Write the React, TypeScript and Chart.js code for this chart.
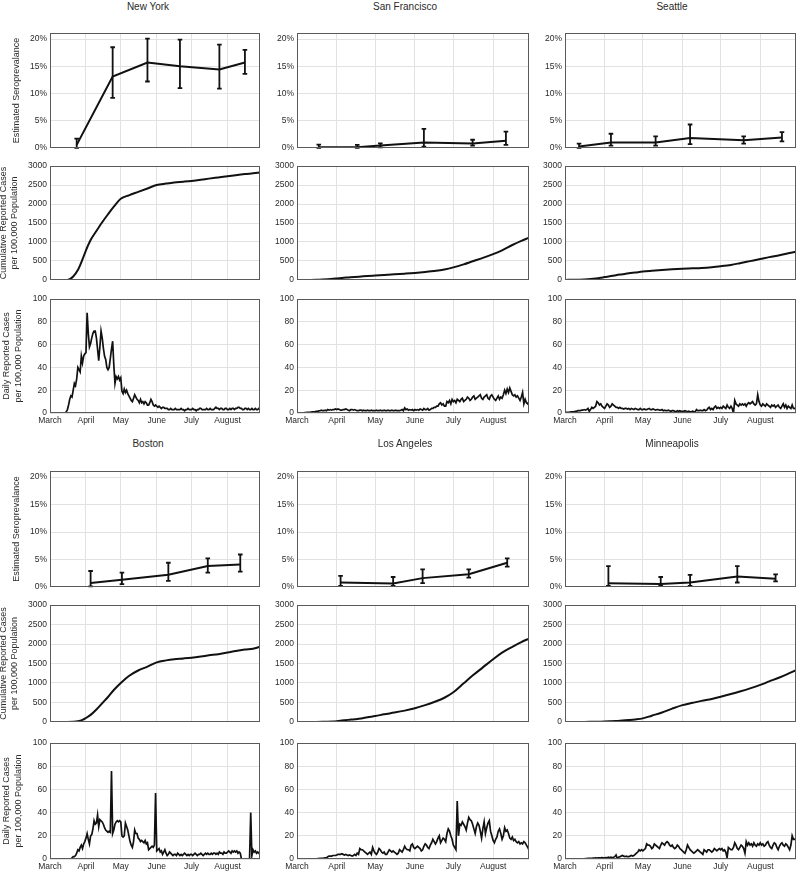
import React, { useEffect, useRef } from 'react';
import { Chart, registerables } from 'chart.js';

Chart.register(...registerables);

// ---------------- DATA ----------------
// x axis: day index counted from March 1 (day 0)
const MONTH_DAYS = [0, 31, 61, 92, 122, 153];
const MONTH_LABELS = ['March', 'April', 'May', 'June', 'July', 'August'];
const LAST_DAY = 181;

const SERO_TICK_SUFFIX = '%';
const SERO_MAX = 21.1;
const CUM_MAX = 3000;
const DAILY_MAX = 100;

// Seroprevalence survey points (day, estimate %, lower %, upper %)
const NY_SERO_DAYS = [23, 54, 84, 112, 146, 168];
const NY_SERO = [0.55, 13.1, 15.7, 15.0, 14.4, 15.7];
const NY_SERO_LO = [0, 9.2, 12.2, 11.0, 10.9, 13.6];
const NY_SERO_HI = [1.7, 18.5, 20.1, 19.9, 19.0, 18.0];

const SF_SERO_DAYS = [17, 47, 65, 99, 137, 163];
const SF_SERO = [0.1, 0.1, 0.45, 1.0, 0.8, 1.3];
const SF_SERO_LO = [0, 0, 0.1, 0.25, 0.4, 0.55];
const SF_SERO_HI = [0.6, 0.55, 0.85, 3.5, 1.5, 3.0];

const SEA_SERO_DAYS = [11, 36, 71, 98, 140, 170];
const SEA_SERO = [0.25, 1.0, 1.0, 1.8, 1.4, 1.9];
const SEA_SERO_LO = [0, 0.4, 0.4, 0.7, 0.8, 1.2];
const SEA_SERO_HI = [0.8, 2.6, 2.1, 4.3, 2.1, 2.9];

const BOS_SERO_DAYS = [35, 62, 102, 136, 164];
const BOS_SERO = [0.7, 1.3, 2.2, 3.8, 4.1];
const BOS_SERO_LO = [0.1, 0.5, 1.1, 2.6, 2.8];
const BOS_SERO_HI = [2.9, 2.6, 4.4, 5.2, 5.9];

const LA_SERO_DAYS = [34, 75, 98, 134, 164];
const LA_SERO = [0.8, 0.6, 1.6, 2.3, 4.4];
const LA_SERO_LO = [0.2, 0.2, 0.7, 1.7, 3.7];
const LA_SERO_HI = [2.0, 1.8, 3.2, 3.2, 5.2];

const MSP_SERO_DAYS = [34, 75, 98, 135, 165];
const MSP_SERO = [0.65, 0.55, 0.8, 1.9, 1.5];
const MSP_SERO_LO = [0.2, 0.2, 0.2, 0.8, 1.0];
const MSP_SERO_HI = [3.8, 1.8, 2.2, 3.8, 2.3];

// Cumulative reported cases per 100,000 (sampled on these days)
const CUM_DAYS = [0, 8, 15, 20, 24, 28, 31, 35, 40, 45, 50, 55, 61, 68, 76, 84, 92, 100, 107, 115, 122, 130, 137, 145, 153, 160, 168, 175, 181];
const NY_CUM = [0, 0, 0, 90, 260, 540, 780, 1050, 1290, 1520, 1730, 1930, 2140, 2230, 2320, 2410, 2500, 2540, 2570, 2590, 2610, 2640, 2670, 2700, 2730, 2760, 2790, 2810, 2830];
const SF_CUM = [0, 0, 5, 12, 20, 30, 40, 52, 65, 78, 90, 102, 115, 130, 147, 165, 185, 210, 235, 275, 330, 410, 490, 580, 680, 780, 920, 1030, 1110];
const SEA_CUM = [0, 3, 12, 22, 35, 55, 75, 95, 125, 150, 175, 195, 220, 240, 260, 280, 295, 305, 315, 335, 360, 395, 440, 495, 550, 600, 650, 700, 745];
const BOS_CUM = [0, 0, 0, 3, 15, 50, 100, 180, 320, 480, 640, 820, 1000, 1180, 1320, 1420, 1530, 1580, 1610, 1630, 1650, 1680, 1710, 1740, 1780, 1820, 1860, 1880, 1930];
const LA_CUM = [0, 0, 0, 1, 4, 10, 18, 33, 52, 68, 88, 120, 150, 195, 240, 290, 350, 430, 510, 620, 760, 990, 1190, 1400, 1610, 1780, 1930, 2050, 2140];
const MSP_CUM = [0, 0, 0, 1, 3, 6, 9, 14, 22, 35, 47, 62, 90, 160, 240, 340, 430, 490, 540, 590, 645, 715, 780, 860, 950, 1040, 1140, 1240, 1330];

// Daily reported cases per 100,000 (day 0 .. 181)
const NY_DAILY = [
  0, 0, 0, 0, 0, 0, 0, 0, 0, 0, 0, 0, 0, 0,
  1, 3, 7, 12, 15, 14, 20, 26, 24, 30, 40, 38, 36, 50, 44, 50, 52,
  53, 88, 70, 58, 61, 66, 70, 72, 72, 66,
  56, 46, 58, 72, 66, 57, 50, 47, 40, 38,
  40, 48, 56, 63, 42, 26, 32, 30, 32, 29,
  31, 19, 17, 21, 18, 20, 17, 15, 13, 11,
  10, 13, 16, 14, 12, 11, 9, 12, 9, 10,
  8, 10, 9, 7, 7, 9, 12, 10, 7, 6,
  7, 6, 5, 6, 5, 4, 5, 5, 4, 4,
  4, 3, 3, 4, 3, 3, 3, 4, 3, 3,
  3, 3, 4, 3, 3, 2, 3, 3, 4, 3,
  3, 3, 4, 3, 3, 2, 3, 3, 4, 4,
  3, 3, 3, 3, 4, 3, 3, 4, 3, 3,
  3, 4, 5, 4, 4, 3, 4, 4, 3, 3,
  4, 4, 3, 3, 4, 3, 4, 4, 3, 4,
  4, 5, 5, 4, 4, 3, 3, 4, 4, 3,
  4, 3, 3, 4, 3, 3, 4, 3, 3, 4,
  4,
];
const SF_DAILY = [
  0, 0, 0, 0, 0, 0, 0.3, 0.3, 0.5, 0.5, 0.5,
  0.8, 1, 1, 1.2, 1.5, 1.5, 1.8, 2, 2.5, 2, 2, 2.5, 2, 3, 2.5, 3, 2.5, 3, 3, 3.5,
  3, 3.5, 3, 2.5, 2.5, 3, 3, 3.5, 3, 2.5, 2, 3, 3, 2.5, 3, 2.5, 2, 2, 2.5, 2.5, 2, 2.5, 2, 2, 2.5, 2, 2, 2.5, 2, 2,
  2, 2.5, 2, 2, 2.5, 2, 2, 2.5, 2, 2, 2.5, 2, 2, 2.5, 2, 2, 2.5, 2, 2, 2, 2.5, 3, 2, 4.5, 3, 3.5, 2.5, 3, 2.5, 3, 2,
  3, 2.5, 3, 2.5, 3.5, 3, 2.5, 4, 3, 3, 4, 2.5, 3, 4, 4, 5, 5, 6, 6, 8, 9, 7, 8, 6, 6, 10, 9, 11, 8, 12,
  10, 11, 9, 12, 11, 10, 12, 13, 10, 11, 12, 14, 13, 11, 12, 14, 15, 12, 13, 14, 15, 16, 13, 12, 14, 15, 16, 13, 12, 15, 16,
  14, 12, 11, 13, 15, 12, 14, 13, 16, 20, 17, 21, 18, 22, 19, 16, 15, 16, 14, 15, 13, 11, 14, 18, 8, 12, 9, 8, 10,
];
const SEA_DAILY = [
  0.5, 0.5, 0.5, 0.5, 0.8, 1, 1, 1, 1.5, 1.5, 2, 2, 2, 2.5, 2.5, 3, 2.5, 3, 4, 1.5, 3, 5, 4, 5, 6, 10, 9, 7, 8, 6, 5,
  4, 6, 8, 7, 5, 6, 8, 7, 6, 5, 5, 4, 5, 4, 4, 3.5, 4, 4, 3.5, 4, 3, 4, 3.5, 3, 4, 3.5, 3, 3, 4, 3,
  3, 3.5, 3, 3, 3.5, 4, 3, 3, 3.5, 3, 2.5, 3, 3, 2.5, 2.5, 3, 2, 2.5, 2, 2, 2.5, 2, 1.5, 2, 2, 1.5, 1, 2, 1.5, 2, 1.5,
  1.5, 1.5, 2, 1.5, 1, 1.5, 1, 1, 1.5, 1, 1, 3, 2, 2, 2.5, 2, 2, 3, 2, 2.5, 4, 5, 3, 4, 3, 5, 6, 4, 5, 4,
  5, 4, 6, 5, 4, 7, 5, 4, 6, 4, 0, 11, 8, 7, 6, 8, 7, 8, 7, 8, 6, 8, 9, 8, 9, 10, 8, 7, 8, 16, 10,
  7, 6, 8, 7, 6, 8, 7, 6, 5, 7, 6, 7, 5, 6, 7, 5, 4, 6, 8, 5, 7, 4, 6, 5, 4, 7, 4, 4, 3,
];
const BOS_DAILY = [
  0, 0, 0, 0, 0, 0, 0, 0, 0, 0, 0, 0, 0, 0, 0, 0, 0, 0, 0,
  1, 2, 2, 3, 5, 8, 7, 10, 12, 9, 13, 15,
  18, 22, 17, 13, 20, 21, 26, 33, 30, 31, 38, 28, 34, 33, 32, 30, 27, 25, 24, 23, 24, 23, 76, 22, 25, 30, 32, 33, 32, 33,
  32, 20, 19, 20, 31, 28, 25, 20, 15, 12, 10, 15, 25, 22, 22, 18, 17, 15, 16, 15, 14, 16, 13, 14, 8, 9, 10, 11, 10, 12, 57,
  7, 8, 9, 6, 7, 4, 6, 8, 5, 3, 4, 6, 5, 4, 3, 4, 4, 3, 5, 4, 3, 4, 3, 4, 5, 4, 3, 4, 3, 4,
  4, 3, 4, 5, 4, 3, 4, 4, 5, 4, 3, 4, 5, 4, 5, 4, 4, 5, 4, 5, 5, 4, 5, 4, 6, 5, 5, 4, 6, 5, 5,
  6, 7, 6, 5, 7, 6, 7, 6, 7, 5, 6, 5, 0, 0, 0, 0, 0, 0, 0, 0, 40, 3, 8, 6, 7, 5, 6, 5, 4,
];
const LA_DAILY = [
  0, 0, 0, 0, 0, 0, 0, 0, 0, 0, 0, 0, 0, 0, 0, 0, 0.3, 0.3, 0.5, 0.5, 0.5, 0.8, 1, 1, 2, 2.5, 2.5, 2.5, 3, 3, 3,
  3.5, 4, 4, 4, 4.5, 4, 3.5, 4, 3.5, 3, 3.5, 3, 2.5, 3, 4, 3, 5, 4, 9, 8, 8, 7, 6, 5, 4, 5, 6, 4, 10, 7,
  5, 4, 6, 9, 8, 6, 5, 6, 4, 4, 6, 8, 7, 6, 7, 6, 5, 4, 5, 8, 7, 6, 8, 11, 9, 8, 8, 7, 12, 13, 10,
  9, 10, 11, 10, 9, 7, 8, 11, 13, 12, 10, 9, 12, 14, 17, 15, 13, 15, 18, 20, 14, 16, 18, 17, 15, 22, 26, 24, 20, 17,
  12, 10, 8, 50, 20, 30, 29, 32, 30, 28, 25, 31, 36, 34, 33, 30, 26, 22, 28, 31, 29, 24, 18, 26, 32, 22, 27, 31, 33, 24, 20,
  16, 14, 17, 19, 24, 26, 22, 17, 20, 27, 24, 25, 22, 18, 17, 19, 16, 17, 15, 14, 15, 13, 14, 13, 15, 14, 12, 10, 8,
];
const MSP_DAILY = [
  0, 0, 0, 0, 0, 0, 0, 0, 0, 0, 0, 0, 0, 0, 0, 0.2, 0.3, 0.3, 0.5, 0.5, 0.5, 0.5, 0.8, 0.8, 1, 0.8, 1, 1, 1, 1.2, 1,
  1, 1.2, 1, 1.5, 1, 1.5, 1.2, 1.5, 2, 3.5, 0.5, 1.5, 2, 2.5, 3, 2.5, 2, 2.5, 2, 2, 2.5, 3, 2.5, 3, 4, 5, 6, 8, 7, 8,
  7, 8, 9, 13, 12, 12, 11, 9, 10, 13, 12, 11, 10, 9, 12, 14, 13, 12, 14, 15, 14, 12, 11, 12, 10, 9, 10, 12, 11, 9, 8,
  7, 6, 5, 8, 12, 10, 8, 7, 6, 5, 6, 7, 8, 7, 6, 5, 4, 8, 7, 6, 8, 8, 7, 6, 7, 9, 8, 7, 8, 9,
  8, 9, 7, 8, 6, 1, 10, 9, 8, 8, 10, 14, 12, 9, 8, 10, 12, 11, 9, 5, 15, 12, 14, 12, 13, 11, 14, 12, 11, 13, 12,
  14, 12, 13, 11, 12, 14, 15, 12, 10, 9, 12, 14, 13, 10, 8, 11, 13, 14, 12, 11, 13, 12, 10, 8, 12, 20, 17, 17, 18,
];

const CITY_NAMES = ['New York', 'San Francisco', 'Seattle', 'Boston', 'Los Angeles', 'Minneapolis'];

type City = {
  name: string;
  seroDays: number[]; sero: number[]; seroLo: number[]; seroHi: number[];
  cum: number[]; daily: number[];
};

const CITIES: City[] = [
  { name: CITY_NAMES[0], seroDays: NY_SERO_DAYS, sero: NY_SERO, seroLo: NY_SERO_LO, seroHi: NY_SERO_HI, cum: NY_CUM, daily: NY_DAILY },
  { name: CITY_NAMES[1], seroDays: SF_SERO_DAYS, sero: SF_SERO, seroLo: SF_SERO_LO, seroHi: SF_SERO_HI, cum: SF_CUM, daily: SF_DAILY },
  { name: CITY_NAMES[2], seroDays: SEA_SERO_DAYS, sero: SEA_SERO, seroLo: SEA_SERO_LO, seroHi: SEA_SERO_HI, cum: SEA_CUM, daily: SEA_DAILY },
  { name: CITY_NAMES[3], seroDays: BOS_SERO_DAYS, sero: BOS_SERO, seroLo: BOS_SERO_LO, seroHi: BOS_SERO_HI, cum: BOS_CUM, daily: BOS_DAILY },
  { name: CITY_NAMES[4], seroDays: LA_SERO_DAYS, sero: LA_SERO, seroLo: LA_SERO_LO, seroHi: LA_SERO_HI, cum: LA_CUM, daily: LA_DAILY },
  { name: CITY_NAMES[5], seroDays: MSP_SERO_DAYS, sero: MSP_SERO, seroLo: MSP_SERO_LO, seroHi: MSP_SERO_HI, cum: MSP_CUM, daily: MSP_DAILY },
];

// ---------------- LAYOUT / STYLE ----------------
const FONT = '"Liberation Sans", Arial, Helvetica, sans-serif';
const LINE = '#111111';
const GRID = '#e2e2e2';
const FRAME = '#5a5a5a';
const TEXT = '#2a2a2a';

const COL_PLOT_X = [[50, 260], [297, 529], [565, 796]];
const GROUP_ROWS = [
  [[33, 148], [166, 280], [299, 413]],
  [[471, 587], [605, 722], [743, 859]],
];
const TITLE_X = [148, 405, 672];
const TITLE_Y = [7, 444];

type Kind = 'sero' | 'cum' | 'daily';
const KINDS: Kind[] = ['sero', 'cum', 'daily'];

const framePlugin = {
  id: 'frame',
  afterDraw(chart: any) {
    const { ctx, chartArea } = chart;
    const l = Math.round(chartArea.left) + 0.5;
    const t = Math.round(chartArea.top) + 0.5;
    const r = Math.round(chartArea.right) - 0.5;
    const b = Math.round(chartArea.bottom) - 0.5;
    ctx.save();
    ctx.strokeStyle = FRAME;
    ctx.lineWidth = 1;
    ctx.strokeRect(l, t, r - l, b - t);
    ctx.restore();
  },
};

function makeErrorPlugin(days: number[], lo: number[], hi: number[]) {
  return {
    id: 'errbars',
    afterDatasetsDraw(chart: any) {
      const { ctx } = chart;
      const xs = chart.scales.x;
      const ys = chart.scales.y;
      ctx.save();
      ctx.strokeStyle = LINE;
      ctx.lineWidth = 1.8;
      days.forEach((d, i) => {
        const px = xs.getPixelForValue(d);
        const pt = ys.getPixelForValue(hi[i]);
        const pb = ys.getPixelForValue(lo[i]);
        ctx.beginPath();
        ctx.moveTo(px, pt);
        ctx.lineTo(px, pb);
        ctx.moveTo(px - 2.3, pt);
        ctx.lineTo(px + 2.3, pt);
        ctx.moveTo(px - 2.3, pb);
        ctx.lineTo(px + 2.3, pb);
        ctx.stroke();
      });
      ctx.restore();
    },
  };
}

function Panel({ city, kind, col, group }: { city: City; kind: Kind; col: number; group: number }) {
  const ref = useRef<HTMLCanvasElement>(null);
  const [pl, pr] = COL_PLOT_X[col];
  const [pt, pb] = GROUP_ROWS[group][KINDS.indexOf(kind)];
  const yAxisW = col === 0 ? 50 : 36;
  const padTop = 8;
  const padRight = 3;
  const xAxisH = kind === 'daily' ? 16 : 0;
  const padBottom = kind === 'daily' ? 4 : 8;
  const width = yAxisW + (pr - pl) + padRight;
  const height = padTop + (pb - pt) + xAxisH + padBottom;
  const left = pl - yAxisW;
  const top = pt - padTop;

  useEffect(() => {
    if (!ref.current) return;
    let points: { x: number; y: number }[];
    let yMax: number;
    let step: number;
    let titleText: string | string[];
    let titleLH: string;
    let titlePad: number;
    if (kind === 'sero') {
      points = city.seroDays.map((d, i) => ({ x: d, y: city.sero[i] }));
      yMax = SERO_MAX; step = 5;
      titleText = 'Estimated Seroprevalance';
      titleLH = '11px'; titlePad = 11.5;
    } else if (kind === 'cum') {
      points = CUM_DAYS.map((d, i) => ({ x: d, y: city.cum[i] }));
      yMax = CUM_MAX; step = 500;
      titleText = ['Cumulative Reported Cases', 'per 100,000 Population'];
      titleLH = '11px'; titlePad = -2;
    } else {
      points = city.daily.map((v, i) => ({ x: i, y: v }));
      yMax = DAILY_MAX; step = 20;
      titleText = ['Daily Reported Cases', 'per 100,000 Population'];
      titleLH = '12px'; titlePad = 0.5;
    }
    const plugins: any[] = [framePlugin];
    if (kind === 'sero') plugins.push(makeErrorPlugin(city.seroDays, city.seroLo, city.seroHi));

    const chart = new Chart(ref.current, {
      type: 'line',
      data: {
        datasets: [{
          data: points,
          borderColor: LINE,
          borderWidth: kind === 'daily' ? 1.7 : 2,
          pointRadius: 0,
          fill: false,
          tension: kind === 'cum' ? 0.4 : 0,
          cubicInterpolationMode: kind === 'cum' ? 'monotone' : 'default',
        }],
      },
      options: {
        responsive: false,
        animation: false,
        events: [],
        layout: { padding: { left: 0, right: padRight, top: padTop, bottom: padBottom } },
        plugins: { legend: { display: false }, tooltip: { enabled: false }, title: { display: false } },
        scales: {
          x: {
            type: 'linear',
            min: 0,
            max: LAST_DAY,
            afterBuildTicks: (s: any) => { s.ticks = MONTH_DAYS.map((v) => ({ value: v })); },
            afterFit: (s: any) => { s.height = xAxisH; },
            grid: { color: GRID, drawTicks: false, lineWidth: 1 },
            border: { display: false },
            ticks: {
              display: kind === 'daily',
              autoSkip: false,
              maxRotation: 0,
              minRotation: 0,
              padding: 3,
              color: TEXT,
              font: { size: 8.5, family: FONT },
              callback: (v: any) => {
                const k = MONTH_DAYS.indexOf(Number(v));
                return k >= 0 ? MONTH_LABELS[k] : '';
              },
            },
          },
          y: {
            min: 0,
            max: yMax,
            afterFit: (s: any) => { s.width = yAxisW; },
            grid: { color: GRID, drawTicks: false, lineWidth: 1 },
            border: { display: false },
            ticks: {
              stepSize: step,
              includeBounds: false,
              padding: 3,
              color: TEXT,
              font: { size: 8.5, family: FONT },
              callback: (v: any) => (kind === 'sero' ? `${v}${SERO_TICK_SUFFIX}` : `${v}`),
            },
            title: {
              display: col === 0,
              text: titleText,
              color: TEXT,
              font: { size: 9, family: FONT, lineHeight: titleLH },
              padding: { top: titlePad, bottom: 0 },
            },
          },
        },
      } as any,
      plugins,
    });
    return () => chart.destroy();
  }, []);

  return (
    <canvas
      ref={ref}
      width={width}
      height={height}
      style={{ position: 'absolute', left, top, width, height, display: 'block' }}
    />
  );
}

export default function App() {
  return (
    <div style={{ position: 'absolute', left: 0, top: 0, width: 800, height: 877, background: '#ffffff', overflow: 'hidden' }}>
      {CITIES.map((c, ci) => {
        const group = Math.floor(ci / 3);
        const col = ci % 3;
        return (
          <React.Fragment key={c.name}>
            <div
              style={{
                position: 'absolute',
                left: TITLE_X[col],
                top: TITLE_Y[group],
                transform: 'translate(-50%, -50%)',
                font: `10px ${FONT}`,
                color: TEXT,
                whiteSpace: 'nowrap',
                lineHeight: '12px',
              }}
            >
              {c.name}
            </div>
            {KINDS.map((k) => (
              <Panel key={k} city={c} kind={k} col={col} group={group} />
            ))}
          </React.Fragment>
        );
      })}
    </div>
  );
}
